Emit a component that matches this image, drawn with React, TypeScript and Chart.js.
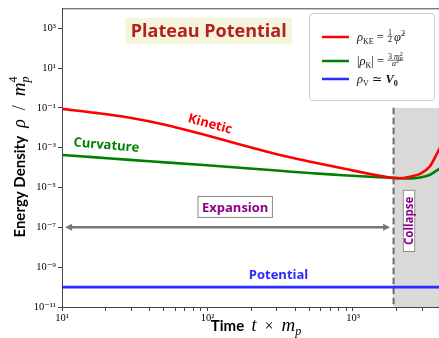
import React, { useEffect, useRef } from 'react';
import { Chart, registerables } from 'chart.js';

Chart.register(...registerables);

// ---------------- data ----------------
const times = [10, 17.1, 29.3, 51.1, 88.8, 167, 315, 531, 910, 1309, 1796, 2104, 2465, 2887, 3382, 3779, 4026, 4642];
const kineticDensity = [8.9e-2, 5.6e-2, 3.2e-2, 1.43e-2, 5.1e-3, 1.44e-3, 4.3e-4, 1.88e-4, 8.2e-5, 4.75e-5, 3.2e-5, 2.94e-5, 3.5e-5, 4.8e-5, 1.16e-4, 5.1e-4, 1.29e-3, 2.0e-2];
const curvatureDensity = [4.3e-4, 3.25e-4, 2.44e-4, 1.84e-4, 1.38e-4, 9.8e-5, 6.9e-5, 5.2e-5, 4.0e-5, 3.5e-5, 3.1e-5, 2.94e-5, 2.87e-5, 3.2e-5, 4.4e-5, 7.3e-5, 9.8e-5, 2.6e-4];
const potentialTimes = [10, 4642];
const potentialDensity = [1e-10, 1e-10];

const xMajorTicks = [10, 100, 1000];
const xMinorTicks = [20, 30, 40, 50, 60, 70, 80, 90, 200, 300, 400, 500, 600, 700, 800, 900, 2000, 3000, 4000];
const yTickExponents = [-11, -9, -7, -5, -3, -1, 1, 3];

const X_MIN = 10;
const X_MAX = 4642;
const Y_MIN = 1e-11;
const Y_MAX = 1e4;

const COLLAPSE_T = 1900;
const SHADE_TOP = 1e-1;
const ARROW_RHO = 1e-7;
const ARROW_FROM = 10.5;
const ARROW_TO = 1800;

// ---------------- style ----------------
const CW = 452;
const CH = 338;
const SANS = '"Open Sans", Lato, sans-serif';
const TSANS = 'Lato, "Open Sans", sans-serif';
const SERIF = '"Liberation Serif", "DejaVu Serif", serif';
const RED = '#ff0000';
const GREEN = '#008000';
const BLUE = '#2a2aff';
const PURPLE = '#8b008b';
const AXIS = '#444444';

const SUP: Record<string, string> = { '-': '⁻', '0': '⁰', '1': '¹', '2': '²', '3': '³', '4': '⁴', '5': '⁵', '6': '⁶', '7': '⁷', '8': '⁸', '9': '⁹' };
const pow10Label = (e: number) => '10' + String(e).split('').map((c) => SUP[c]).join('');

type Run = { t: string; font: string; dy?: number; stack?: boolean };
type Frac = { num: Run[]; den: Run[]; lineDy: number };
type Piece = Run | Frac;

function runsWidth(ctx: CanvasRenderingContext2D, runs: Run[]) {
  let x = 0, start = 0, end = 0;
  for (const r of runs) {
    ctx.font = r.font;
    const w = ctx.measureText(r.t).width;
    if (r.stack) { end = Math.max(end, start + w); x = end; }
    else { start = x; x = x + w; end = x; }
  }
  return end;
}
function drawRuns(ctx: CanvasRenderingContext2D, runs: Run[], x0: number, y: number) {
  let x = x0, start = x0, end = x0;
  for (const r of runs) {
    ctx.font = r.font;
    const w = ctx.measureText(r.t).width;
    if (r.stack) { ctx.fillText(r.t, start, y + (r.dy || 0)); end = Math.max(end, start + w); x = end; }
    else { start = x; ctx.fillText(r.t, x, y + (r.dy || 0)); x = x + w; end = x; }
  }
  return end;
}
function piecesWidth(ctx: CanvasRenderingContext2D, pieces: Piece[]) {
  let w = 0;
  for (const p of pieces) {
    if ('num' in p) w += Math.max(runsWidth(ctx, p.num), runsWidth(ctx, p.den)) + 3;
    else w += runsWidth(ctx, [p]);
  }
  return w;
}
function drawPieces(ctx: CanvasRenderingContext2D, pieces: Piece[], x0: number, y: number) {
  let x = x0;
  let i = 0;
  while (i < pieces.length) {
    const p = pieces[i];
    if ('num' in p) {
      const wn = runsWidth(ctx, p.num);
      const wd = runsWidth(ctx, p.den);
      const w = Math.max(wn, wd) + 2;
      const ly = y + p.lineDy;
      drawRuns(ctx, p.num, x + (w - wn) / 2, ly - 1.3);
      drawRuns(ctx, p.den, x + (w - wd) / 2, ly + 6.2);
      ctx.save();
      ctx.strokeStyle = ctx.fillStyle as string;
      ctx.lineWidth = 0.6;
      ctx.beginPath();
      ctx.moveTo(x + 0.5, ly);
      ctx.lineTo(x + w - 0.5, ly);
      ctx.stroke();
      ctx.restore();
      x += w + 1;
      i++;
    } else {
      const group: Run[] = [];
      while (i < pieces.length && !('num' in pieces[i])) { group.push(pieces[i] as Run); i++; }
      x = drawRuns(ctx, group, x, y);
    }
  }
  return x;
}

function boxedText(
  ctx: CanvasRenderingContext2D, text: string, cx: number, cy: number,
  o: { font: string; size: number; color: string; fill: string; stroke?: string; padX: number; padY: number; rot?: number }
) {
  ctx.save();
  ctx.translate(cx, cy);
  if (o.rot) ctx.rotate((o.rot * Math.PI) / 180);
  ctx.font = o.font;
  const w = ctx.measureText(text).width + 2 * o.padX;
  const h = o.size + 2 * o.padY;
  ctx.fillStyle = o.fill;
  ctx.fillRect(-w / 2, -h / 2, w, h);
  if (o.stroke) {
    ctx.strokeStyle = o.stroke;
    ctx.lineWidth = 1;
    ctx.strokeRect(-w / 2 + 0.5, -h / 2 + 0.5, w - 1, h - 1);
  }
  ctx.fillStyle = o.color;
  ctx.textAlign = 'center';
  ctx.textBaseline = 'middle';
  ctx.fillText(text, 0, 1);
  ctx.restore();
}

function plainText(ctx: CanvasRenderingContext2D, text: string, cx: number, cy: number, font: string, color: string, rot = 0) {
  ctx.save();
  ctx.translate(cx, cy);
  ctx.rotate((rot * Math.PI) / 180);
  ctx.font = font;
  ctx.fillStyle = color;
  ctx.textAlign = 'center';
  ctx.textBaseline = 'middle';
  ctx.fillText(text, 0, 0);
  ctx.restore();
}

const annotationPlugin = {
  id: 'annotations',
  beforeDatasetsDraw(chart: any) {
    const { ctx, chartArea: ca, scales } = chart;
    const xs = scales.x, ys = scales.y;
    const xl = xs.getPixelForValue(COLLAPSE_T);
    const yt = ys.getPixelForValue(SHADE_TOP);
    ctx.save();
    ctx.fillStyle = '#d9d9d9';
    ctx.fillRect(xl, yt, ca.right - xl, ca.bottom - yt);
    ctx.strokeStyle = '#6b6b6b';
    ctx.lineWidth = 2;
    ctx.setLineDash([6.5, 3.5]);
    ctx.beginPath();
    ctx.moveTo(xl, yt);
    ctx.lineTo(xl, ca.bottom);
    ctx.stroke();
    ctx.setLineDash([]);

    // expansion arrow
    const ay = ys.getPixelForValue(ARROW_RHO);
    const ax1 = xs.getPixelForValue(ARROW_FROM);
    const ax2 = xs.getPixelForValue(ARROW_TO);
    ctx.strokeStyle = '#777777';
    ctx.fillStyle = '#777777';
    ctx.lineWidth = 2.5;
    ctx.beginPath();
    ctx.moveTo(ax1 + 5, ay);
    ctx.lineTo(ax2 - 5, ay);
    ctx.stroke();
    ctx.beginPath();
    ctx.moveTo(ax1, ay);
    ctx.lineTo(ax1 + 7, ay - 3.5);
    ctx.lineTo(ax1 + 7, ay + 3.5);
    ctx.closePath();
    ctx.fill();
    ctx.beginPath();
    ctx.moveTo(ax2, ay);
    ctx.lineTo(ax2 - 7, ay - 3.5);
    ctx.lineTo(ax2 - 7, ay + 3.5);
    ctx.closePath();
    ctx.fill();
    ctx.restore();
  },
  afterDatasetsDraw(chart: any) {
    const { ctx, scales } = chart;
    const xs = scales.x, ys = scales.y;
    const P = (t: number, r: number) => [xs.getPixelForValue(t), ys.getPixelForValue(r)];

    // title box
    let [cx, cy] = P(102, 730);
    boxedText(ctx, 'Plateau Potential', cx, cy, { font: `bold 18px ${SANS}`, size: 18, color: '#b22222', fill: '#f5f5dc', padX: 5, padY: 4 });

    // expansion
    [cx, cy] = P(155, 1.06e-6);
    boxedText(ctx, 'Expansion', cx, cy, { font: `bold 13px ${SANS}`, size: 13, color: PURPLE, fill: '#ffffff', stroke: '#8a8a8a', padX: 4.5, padY: 4.5 });

    // collapse
    [cx, cy] = P(2427, 2.1e-7);
    boxedText(ctx, 'Collapse', cx, cy, { font: `bold 11.5px ${SANS}`, size: 11.5, color: PURPLE, fill: '#ffffff', stroke: '#8a8a8a', padX: 7, padY: 0.5, rot: -90 });

    // curve labels
    [cx, cy] = P(104, 1.5e-2);
    plainText(ctx, 'Kinetic', cx, cy, `bold 13px ${SANS}`, RED, 15);
    [cx, cy] = P(20.2, 1.3e-3);
    plainText(ctx, 'Curvature', cx, cy, `bold 13px ${SANS}`, GREEN, 5);
    [cx, cy] = P(308, 3.7e-10);
    plainText(ctx, 'Potential', cx, cy, `bold 13px ${SANS}`, BLUE, 0);
  },
  afterDraw(chart: any) {
    const { ctx, chartArea: ca } = chart;
    ctx.save();
    // frame (top / right spines)
    ctx.strokeStyle = AXIS;
    ctx.lineWidth = 1;
    ctx.beginPath();
    ctx.moveTo(ca.left, ca.top + 0.5);
    ctx.lineTo(ca.right, ca.top + 0.5);
    ctx.lineTo(ca.right, ca.bottom);
    ctx.stroke();

    // legend
    const lx = 309.5, ly = 13.5, lw = 125, lh = 87;
    ctx.fillStyle = '#ffffff';
    ctx.strokeStyle = '#cccccc';
    ctx.beginPath();
    (ctx as any).roundRect(lx, ly, lw, lh, 3);
    ctx.fill();
    ctx.stroke();

    const M = `italic 12.5px ${SERIF}`;
    const R = `12.5px ${SERIF}`;
    const S = `8px ${SERIF}`;
    const F = `8px ${SERIF}`;
    const FI = `italic 8px ${SERIF}`;
    const FS = `6px ${SERIF}`;
    const FSI = `italic 6px ${SERIF}`;
    const entries: { color: string; cy: number; pieces: Piece[] }[] = [
      {
        color: RED, cy: 37, pieces: [
          { t: 'ρ', font: M }, { t: 'KE', font: S, dy: 2.5 }, { t: ' = ', font: R },
          { num: [{ t: '1', font: F }], den: [{ t: '2', font: F }], lineDy: -4.8 },
          { t: 'φ\u0307', font: M }, { t: '2', font: S, dy: -5 },
        ],
      },
      {
        color: GREEN, cy: 61, pieces: [
          { t: '|', font: R }, { t: 'ρ', font: M }, { t: 'K', font: S, dy: 2.5 }, { t: '| = ', font: R },
          {
            num: [{ t: '3 ', font: F }, { t: 'm', font: FI }, { t: 'p', font: FSI, dy: 1.5 }, { t: '2', font: FS, dy: -3, stack: true }],
            den: [{ t: 'a', font: FI }, { t: '2', font: FS, dy: -3 }], lineDy: -4.8,
          },
        ],
      },
      {
        color: BLUE, cy: 79, pieces: [
          { t: 'ρ', font: M }, { t: 'V', font: S, dy: 2.5 }, { t: ' ≃ ', font: R },
          { t: 'V', font: `italic bold 12.5px ${SERIF}` }, { t: '0', font: `bold 8px ${SERIF}`, dy: 2.5 },
        ],
      },
    ];
    ctx.textAlign = 'left';
    ctx.textBaseline = 'alphabetic';
    for (const e of entries) {
      ctx.strokeStyle = e.color;
      ctx.lineWidth = 2.5;
      ctx.beginPath();
      ctx.moveTo(322, e.cy);
      ctx.lineTo(349, e.cy);
      ctx.stroke();
      ctx.fillStyle = '#111111';
      drawPieces(ctx, e.pieces, 357, e.cy + 4);
    }

    // y title
    const yPieces: Piece[] = [
      { t: 'Energy Density ', font: `bold 15px ${TSANS}` },
      { t: ' ρ', font: `italic 18px ${SERIF}` }, { t: '  /  ', font: `18px ${SERIF}` },
      { t: 'm', font: `italic 19px ${SERIF}` }, { t: 'p', font: `italic 12px ${SERIF}`, dy: 4 },
      { t: '4', font: `12px ${SERIF}`, dy: -8, stack: true },
    ];
    ctx.fillStyle = '#000000';
    ctx.save();
    ctx.translate(25, 154);
    ctx.rotate(-Math.PI / 2);
    const yw = piecesWidth(ctx, yPieces);
    drawPieces(ctx, yPieces, -yw / 2, 0);
    ctx.restore();

    // x title
    const xPieces: Piece[] = [
      { t: 'Time  ', font: `bold 15px ${TSANS}` },
      { t: 't', font: `italic 18px ${SERIF}` }, { t: '  ×  ', font: `16px ${SERIF}` },
      { t: 'm', font: `italic 19px ${SERIF}` }, { t: 'p', font: `italic 12px ${SERIF}`, dy: 4 },
    ];
    const xw = piecesWidth(ctx, xPieces);
    drawPieces(ctx, xPieces, 256 - xw / 2, 331);
    ctx.restore();
  },
};

export default function App() {
  const ref = useRef<HTMLCanvasElement | null>(null);
  useEffect(() => {
    if (!ref.current) return;
    const chart = new Chart(ref.current, {
      type: 'line',
      data: {
        datasets: [
          { label: 'Kinetic', data: times.map((t, i) => ({ x: t, y: kineticDensity[i] })), borderColor: RED, borderWidth: 2.6, pointRadius: 0, cubicInterpolationMode: 'monotone', fill: false },
          { label: 'Curvature', data: times.map((t, i) => ({ x: t, y: curvatureDensity[i] })), borderColor: GREEN, borderWidth: 2.6, pointRadius: 0, cubicInterpolationMode: 'monotone', fill: false },
          { label: 'Potential', data: potentialTimes.map((t, i) => ({ x: t, y: potentialDensity[i] })), borderColor: BLUE, borderWidth: 2.6, pointRadius: 0, tension: 0, fill: false },
        ],
      },
      options: {
        responsive: false,
        animation: false,
        events: [],
        layout: { padding: { top: 6, right: 2, left: 0, bottom: 0 } },
        plugins: { legend: { display: false }, tooltip: { enabled: false } },
        scales: {
          x: {
            type: 'logarithmic',
            min: X_MIN,
            max: X_MAX,
            afterBuildTicks: (s: any) => {
              s.ticks = [...xMajorTicks, ...xMinorTicks].sort((a, b) => a - b).map((v) => ({ value: v, major: xMajorTicks.includes(v) }));
            },
            afterFit: (s: any) => { s.height = 31; },
            grid: { drawOnChartArea: false, drawTicks: true, tickLength: 4, color: AXIS },
            border: { display: true, color: AXIS, width: 1 },
            ticks: {
              autoSkip: false, maxRotation: 0, minRotation: 0, padding: 1, color: '#000',
              font: { family: SERIF, size: 10.5 },
              callback: (v: any) => (xMajorTicks.includes(Number(v)) ? pow10Label(Math.round(Math.log10(Number(v)))) : ''),
            },
          },
          y: {
            type: 'logarithmic',
            min: Y_MIN,
            max: Y_MAX,
            afterBuildTicks: (s: any) => {
              s.ticks = yTickExponents.map((e) => ({ value: Math.pow(10, e) }));
            },
            afterFit: (s: any) => { s.width = 62; },
            grid: { drawOnChartArea: false, drawTicks: true, tickLength: 4, color: AXIS },
            border: { display: true, color: AXIS, width: 1 },
            ticks: {
              autoSkip: false, padding: 2, color: '#000',
              font: { family: SERIF, size: 10.5 },
              callback: (v: any) => pow10Label(Math.round(Math.log10(Number(v)))),
            },
          },
        },
      },
      plugins: [annotationPlugin],
    } as any);
    return () => chart.destroy();
  }, []);
  return (
    <div style={{ position: 'fixed', left: 0, top: 0, width: 439, height: 338, overflow: 'hidden', background: '#fff' }}>
      <canvas ref={ref} width={CW} height={CH} style={{ width: CW, height: CH, display: 'block' }} />
    </div>
  );
}
